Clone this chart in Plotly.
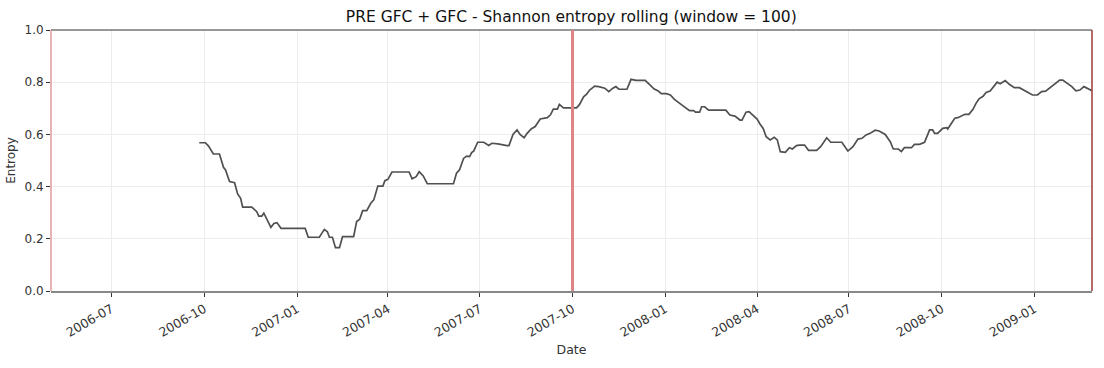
import plotly.graph_objects as go

# Rolling Shannon entropy (window = 100), vertices
dates = [
    "2006-09-26", "2006-10-02", "2006-10-05", "2006-10-08", "2006-10-10", "2006-10-16",
    "2006-10-20", "2006-10-22", "2006-10-26", "2006-10-31", "2006-11-03", "2006-11-06",
    "2006-11-08", "2006-11-17", "2006-11-22", "2006-11-24", "2006-11-27", "2006-11-29",
    "2006-12-02", "2006-12-06", "2006-12-09", "2006-12-12", "2006-12-16", "2007-01-09",
    "2007-01-12", "2007-01-23", "2007-01-28", "2007-01-31", "2007-02-02", "2007-02-05",
    "2007-02-08", "2007-02-12", "2007-02-15", "2007-02-26", "2007-03-01", "2007-03-04",
    "2007-03-07", "2007-03-11", "2007-03-15", "2007-03-18", "2007-03-22", "2007-03-27",
    "2007-03-29", "2007-04-01", "2007-04-05", "2007-04-22", "2007-04-25", "2007-04-29",
    "2007-05-02", "2007-05-06", "2007-05-10", "2007-06-05", "2007-06-08", "2007-06-11",
    "2007-06-15", "2007-06-18", "2007-06-21", "2007-06-23", "2007-06-25", "2007-06-29",
    "2007-07-05", "2007-07-10", "2007-07-13", "2007-07-19", "2007-07-28", "2007-07-30",
    "2007-08-03", "2007-08-07", "2007-08-10", "2007-08-14", "2007-08-17", "2007-08-21",
    "2007-08-25", "2007-08-30", "2007-09-06", "2007-09-09", "2007-09-12", "2007-09-16",
    "2007-09-18", "2007-09-22", "2007-10-05", "2007-10-08", "2007-10-12", "2007-10-15",
    "2007-10-18", "2007-10-23", "2007-10-27", "2007-11-02", "2007-11-06", "2007-11-10",
    "2007-11-13", "2007-11-16", "2007-11-24", "2007-11-28", "2007-12-03", "2007-12-12",
    "2007-12-17", "2007-12-21", "2007-12-25", "2007-12-28", "2008-01-02", "2008-01-06",
    "2008-01-10", "2008-01-15", "2008-01-19", "2008-01-25", "2008-01-29", "2008-01-31",
    "2008-02-04", "2008-02-06", "2008-02-09", "2008-02-13", "2008-03-01", "2008-03-05",
    "2008-03-10", "2008-03-15", "2008-03-17", "2008-03-21", "2008-03-24", "2008-03-29",
    "2008-04-01", "2008-04-04", "2008-04-07", "2008-04-10", "2008-04-14", "2008-04-18",
    "2008-04-21", "2008-04-24", "2008-04-29", "2008-05-03", "2008-05-06", "2008-05-10",
    "2008-05-13", "2008-05-18", "2008-05-22", "2008-05-30", "2008-06-03", "2008-06-09",
    "2008-06-13", "2008-06-24", "2008-06-27", "2008-06-30", "2008-07-05", "2008-07-10",
    "2008-07-14", "2008-07-18", "2008-07-22", "2008-07-27", "2008-07-31", "2008-08-06",
    "2008-08-11", "2008-08-14", "2008-08-19", "2008-08-22", "2008-08-25", "2008-09-01",
    "2008-09-04", "2008-09-09", "2008-09-14", "2008-09-19", "2008-09-22", "2008-09-24",
    "2008-09-27", "2008-10-02", "2008-10-06", "2008-10-07", "2008-10-10", "2008-10-14",
    "2008-10-17", "2008-10-21", "2008-10-24", "2008-10-28", "2008-11-01", "2008-11-04",
    "2008-11-07", "2008-11-11", "2008-11-14", "2008-11-18", "2008-11-21", "2008-11-25",
    "2008-11-28", "2008-12-03", "2008-12-07", "2008-12-12", "2008-12-17", "2008-12-21",
    "2008-12-25", "2008-12-30", "2009-01-04", "2009-01-08", "2009-01-12", "2009-01-16",
    "2009-01-21", "2009-01-26", "2009-01-29", "2009-02-02", "2009-02-07", "2009-02-11",
    "2009-02-15", "2009-02-19", "2009-02-22", "2009-02-26", "2009-02-27",
]
entropy = [
    0.568, 0.568, 0.556, 0.540, 0.525, 0.525,
    0.474, 0.464, 0.419, 0.415, 0.372, 0.355,
    0.321, 0.321, 0.304, 0.287, 0.287, 0.298,
    0.275, 0.244, 0.259, 0.262, 0.240, 0.240,
    0.206, 0.206, 0.236, 0.227, 0.206, 0.206,
    0.166, 0.166, 0.208, 0.208, 0.266, 0.275,
    0.308, 0.308, 0.336, 0.349, 0.402, 0.402,
    0.423, 0.428, 0.456, 0.456, 0.430, 0.438,
    0.457, 0.441, 0.411, 0.411, 0.451, 0.464,
    0.508, 0.517, 0.515, 0.530, 0.536, 0.570,
    0.570, 0.558, 0.566, 0.564, 0.557, 0.557,
    0.600, 0.617, 0.600, 0.587, 0.604, 0.621,
    0.630, 0.659, 0.664, 0.674, 0.697, 0.697,
    0.715, 0.702, 0.702, 0.715, 0.744, 0.754,
    0.770, 0.785, 0.783, 0.777, 0.764, 0.777,
    0.783, 0.773, 0.773, 0.811, 0.807, 0.807,
    0.789, 0.774, 0.766, 0.756, 0.756, 0.751,
    0.734, 0.719, 0.706, 0.691, 0.691, 0.685,
    0.685, 0.706, 0.706, 0.693, 0.693, 0.674,
    0.670, 0.655, 0.655, 0.685, 0.687, 0.668,
    0.659, 0.639, 0.623, 0.591, 0.579, 0.589,
    0.579, 0.534, 0.531, 0.549, 0.544, 0.557,
    0.559, 0.559, 0.539, 0.539, 0.553, 0.587,
    0.570, 0.570, 0.553, 0.536, 0.553, 0.582,
    0.585, 0.598, 0.604, 0.616, 0.613, 0.600,
    0.572, 0.544, 0.544, 0.534, 0.549, 0.549,
    0.562, 0.562, 0.570, 0.617, 0.617, 0.604,
    0.604, 0.623, 0.626, 0.621, 0.639, 0.662,
    0.664, 0.672, 0.677, 0.677, 0.696, 0.719,
    0.736, 0.746, 0.761, 0.766, 0.779, 0.800,
    0.794, 0.806, 0.792, 0.779, 0.779, 0.770,
    0.764, 0.751, 0.751, 0.764, 0.766, 0.777,
    0.792, 0.808, 0.808, 0.796, 0.783, 0.767,
    0.770, 0.783, 0.777, 0.770, 0.767,
]

period_start = "2006-05-02"
gfc_start = "2007-10-01"
period_end = "2009-02-27"

title_text = "PRE GFC + GFC - Shannon entropy rolling (window = 100)"
y_ticks = [0.0, 0.2, 0.4, 0.6, 0.8, 1.0]

FONT = "DejaVu Sans"

fig = go.Figure()
fig.add_trace(go.Scatter(
    x=dates, y=entropy, mode="lines",
    line=dict(color="#505050", width=1.7),
    showlegend=False,
))

shapes = [
    # top spine
    dict(type="line", xref="paper", yref="paper", x0=0, x1=1, y0=1, y1=1,
         line=dict(color="#333333", width=1)),
    # period start / end markers (at the x-range edges)
    dict(type="line", xref="paper", yref="paper", x0=0, x1=0, y0=0, y1=1,
         line=dict(color="#d98080", width=1.2)),
    dict(type="line", xref="paper", yref="paper", x0=1, x1=1, y0=0, y1=1,
         line=dict(color="#9e3a3a", width=1.5)),
    # GFC start marker
    dict(type="line", xref="x", yref="paper", x0=gfc_start, x1=gfc_start, y0=0, y1=1,
         line=dict(color="#e08585", width=3)),
]

fig.update_layout(
    width=1104, height=368,
    margin=dict(l=51, r=12, t=30, b=77),
    paper_bgcolor="white", plot_bgcolor="white",
    font=dict(family=FONT, size=12, color="#333333"),
    title=dict(text=title_text, x=0.5175, xanchor="center", y=0.955, yanchor="middle",
               font=dict(family=FONT, size=15.5, color="#111111")),
    shapes=shapes,
    xaxis=dict(
        type="date",
        range=[period_start, period_end],
        tick0="2006-07-01", dtick="M3", tickformat="%Y-%m",
        tickangle=-30,
        ticks="outside", ticklen=4, tickwidth=1, tickcolor="#333333",
        showgrid=True, gridcolor="#ececec", gridwidth=1,
        showline=True, linecolor="#888888", linewidth=2,
        zeroline=False,
        tickfont=dict(family=FONT, size=12.5, color="#333333"),
        title=dict(text="Date", standoff=6, font=dict(family=FONT, size=12.5, color="#333333")),
        automargin=False,
    ),
    yaxis=dict(
        range=[0, 1],
        tickvals=y_ticks, tickformat=".1f",
        ticks="outside", ticklen=4, tickwidth=1, tickcolor="#333333",
        showgrid=True, gridcolor="#ececec", gridwidth=1,
        showline=False, zeroline=False,
        tickfont=dict(family=FONT, size=12, color="#333333"),
        title=dict(text="Entropy", standoff=6, font=dict(family=FONT, size=12, color="#333333")),
        automargin=False,
    ),
)

fig.write_html(
    "out.html",
    config={"displayModeBar": False},
    post_script="document.body.style.margin='0px';document.body.style.padding='0px';",
)
